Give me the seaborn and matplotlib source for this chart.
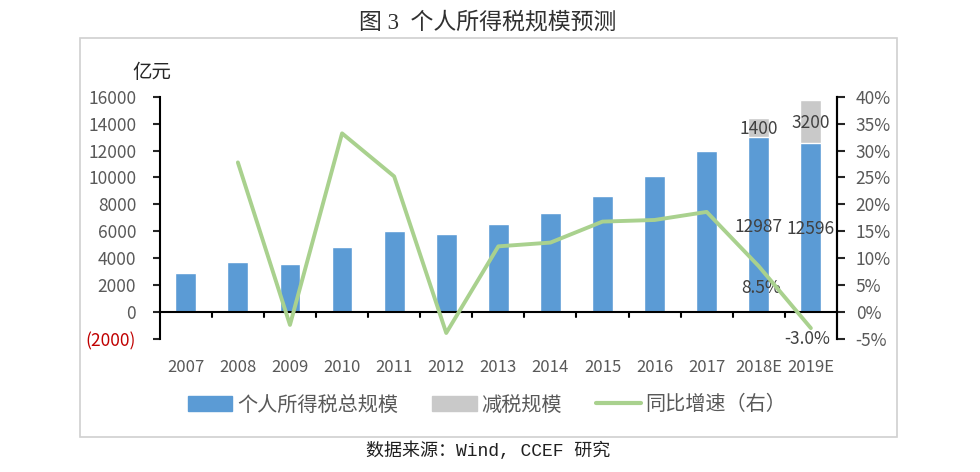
import numpy as np
import pandas as pd
import matplotlib.pyplot as plt
import seaborn as sns
from matplotlib.patches import Rectangle
from matplotlib.lines import Line2D

# ── Data ────────────────────────────────────────────────────────────────
years = ['2007', '2008', '2009', '2010', '2011', '2012', '2013', '2014',
         '2015', '2016', '2017', '2018E', '2019E']
tax_total = [2900, 3720, 3580, 4840, 6050, 5820, 6530, 7380,
             8620, 10090, 11970, 12987, 12596]
tax_cut = [0, 0, 0, 0, 0, 0, 0, 0, 0, 0, 0, 1400, 3200]
growth = [np.nan, 27.8, -2.4, 33.2, 25.2, -3.9, 12.2, 12.9,
          16.8, 17.1, 18.6, 8.5, -3.0]

df = pd.DataFrame({'year': years, 'total': tax_total, 'cut': tax_cut,
                   'growth': growth})
df['stack'] = df['total'] + df['cut']
df['pos'] = np.arange(len(df))

blue = '#5B9BD5'
grey = '#C9C9C9'
green = '#A9D18E'
txt = '#595959'
lab = '#404040'

sns.set_style('white')
plt.rcParams['font.family'] = ['Noto Sans CJK SC', 'DejaVu Sans']

fig = plt.figure(figsize=(9.8, 4.72), dpi=100)
ax = fig.add_axes([0.163, 0.282, 0.691, 0.513])

# stacked bars: draw total height in grey, blue part over it
sns.barplot(data=df, x='year', y='stack', color=grey, width=0.4,
            saturation=1, ax=ax)
sns.barplot(data=df, x='year', y='total', color=blue, width=0.4,
            saturation=1, ax=ax)

ax.set_ylim(-2000, 16000)
ax.set_xlim(-0.5, len(df) - 0.5)
ax.set_yticks(range(-2000, 16001, 2000))
ax.set_yticklabels(['(2000)'] + [str(v) for v in range(0, 16001, 2000)])
ax.set_xlabel('')
ax.set_ylabel('')
ax.axhline(0, color='black', lw=1.5, zorder=3)
for s in ['top', 'bottom']:
    ax.spines[s].set_visible(False)
for s in ['left', 'right']:
    ax.spines[s].set_color('black')
    ax.spines[s].set_linewidth(1.5)

ax.tick_params(axis='y', left=True, length=5, width=1.5, labelsize=12.5,
               labelcolor=txt, pad=12)
ax.get_yticklabels()[0].set_color('#C00000')
ax.set_xticks(df['pos'])
ax.set_xticklabels(years)
ax.tick_params(axis='x', bottom=False, labelsize=12, labelcolor=txt, pad=11)
# category boundary ticks on the zero line
for b in df['pos'][1:] - 0.5:
    ax.plot([b, b], [0, -380], color='black', lw=1.5, clip_on=False, zorder=3)

# right axis: growth
ax2 = ax.twinx()
sns.lineplot(x=df['pos'], y=df['growth'], color=green, lw=2.8, ax=ax2,
             zorder=4)
ax2.set_ylim(-5, 40)
ax2.set_yticks(range(-5, 41, 5))
ax2.set_yticklabels([f'{v}%' for v in range(-5, 41, 5)])
ax2.set_ylabel('')
ax2.tick_params(axis='y', right=True, length=5.5, width=1.5, labelsize=12.5,
                labelcolor=txt, pad=8)
for s in ['top', 'bottom', 'left']:
    ax2.spines[s].set_visible(False)
ax2.spines['right'].set_color('black')
ax2.spines['right'].set_linewidth(1.5)

# data labels
i18, i19 = 11, 12
ax.text(i18, 13600, f"{tax_cut[i18]}", ha='center', va='center',
        fontsize=12.5, color=lab)
ax.text(i19, 14060, f"{tax_cut[i19]}", ha='center', va='center',
        fontsize=12.5, color=lab)
ax.text(i18, 6320, f"{tax_total[i18]}", ha='center', va='center',
        fontsize=12.5, color=lab)
ax.text(i19, 6170, f"{tax_total[i19]}", ha='center', va='center',
        fontsize=12.5, color=lab)
ax2.text(i18 + 0.04, 4.5, f"{growth[i18]:.1f}%", ha='center', va='center',
         fontsize=12.5, color=lab)
ax2.text(i19 - 0.08, -5.0, f"{growth[i19]:.1f}%", ha='center', va='center',
         fontsize=12.5, color=lab)

fig.text(0.155, 0.847, '亿元', ha='center', va='center', fontsize=14,
         color='#262626')

# legend
handles = [Rectangle((0, 0), 1, 1, color=blue),
           Rectangle((0, 0), 1, 1, color=grey),
           Line2D([], [], color=green, lw=3)]
fig.legend(handles, ['个人所得税总规模', '减税规模', '同比增速（右）'],
           loc='center', bbox_to_anchor=(0.497, 0.142), ncol=3, frameon=False,
           fontsize=14.5, handlelength=2.2, handleheight=0.8,
           columnspacing=1.7, handletextpad=0.25, labelcolor=txt)

# outer border box
fig.add_artist(Rectangle((0.082, 0.074), 0.833, 0.845, fill=False,
                         edgecolor='#D0D0D0', lw=1.2,
                         transform=fig.transFigure))

fig.text(0.498, 0.953, '图 3  个人所得税规模预测', ha='center', va='center',
         fontsize=16.5, color='#303030',
         family=['Liberation Serif', 'Noto Sans CJK SC'])
fig.text(0.498, 0.046, '数据来源：Wind, CCEF 研究', ha='center', va='center',
         fontsize=13, color='#202020',
         family=['Liberation Mono', 'Noto Sans CJK SC'])

plt.savefig('out.png', dpi=100)
